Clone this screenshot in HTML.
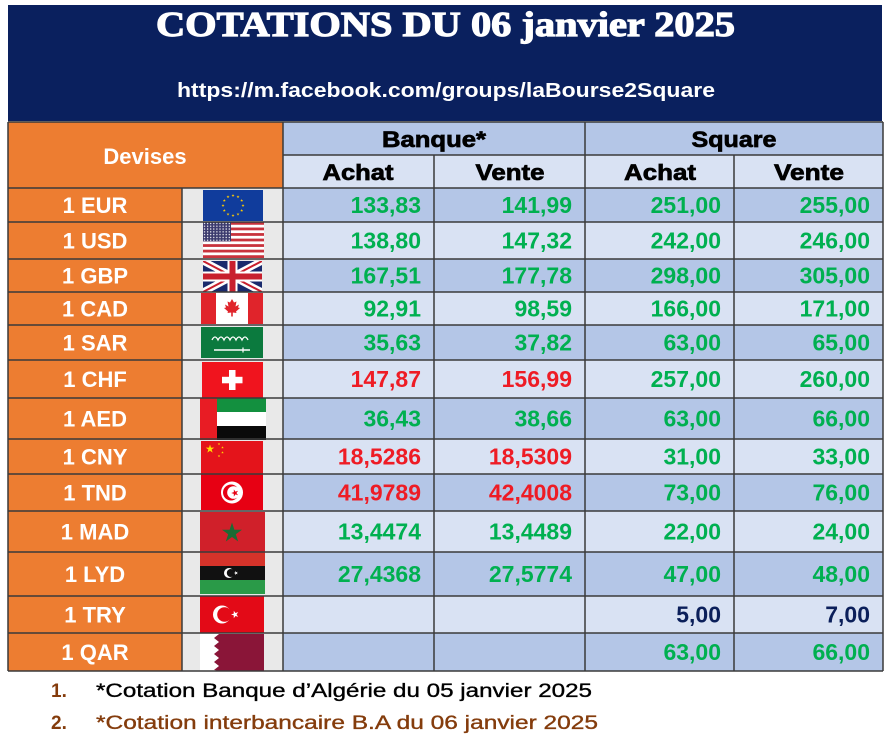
<!DOCTYPE html>
<html><head><meta charset="utf-8"><style>
html,body{margin:0;padding:0;background:#fff;}
body{width:886px;height:750px;overflow:hidden;}
svg{display:block;}
.lbl{font-family:"Liberation Sans",sans-serif;font-weight:bold;font-size:22px;fill:#fff;text-anchor:middle;}
.num{font-family:"Liberation Sans",sans-serif;font-weight:bold;font-size:23px;text-anchor:end;}
.g{fill:#00b050;}.r{fill:#ee1c25;}.n{fill:#0b1f5a;}
.hd{font-family:"Liberation Sans",sans-serif;font-weight:bold;font-size:22px;fill:#000;stroke:#000;stroke-width:0.7;text-anchor:middle;}
.ft{font-family:"Liberation Sans",sans-serif;font-size:19px;}
</style></head><body>
<svg width="886" height="750" viewBox="0 0 886 750" xmlns="http://www.w3.org/2000/svg">
<defs>
<polygon id="st" points="0,-1 0.2245,-0.309 0.951,-0.309 0.363,0.118 0.588,0.809 0,0.382 -0.588,0.809 -0.363,0.118 -0.951,-0.309 -0.2245,-0.309"/>
<clipPath id="ukc"><rect x="203" y="261" width="59" height="31"/></clipPath>
<pattern id="usd" x="203" y="222" width="3.1" height="2.8" patternUnits="userSpaceOnUse"><rect width="3.1" height="2.8" fill="#3c3b6e"/><circle cx="1.5" cy="1.4" r="0.7" fill="#fff"/></pattern>
</defs>

<!-- header -->
<rect x="8" y="5" width="874" height="116" fill="#0a205e"/>
<text x="156" y="36" textLength="579" lengthAdjust="spacingAndGlyphs" font-family="Liberation Serif, serif" font-weight="bold" font-size="35" fill="#fff" stroke="#fff" stroke-width="1.2">COTATIONS DU 06 janvier 2025</text>
<text x="177" y="97" textLength="538" lengthAdjust="spacingAndGlyphs" font-family="Liberation Sans, sans-serif" font-weight="bold" font-size="20" fill="#fff">https://m.facebook.com/groups/laBourse2Square</text>
<rect x="8" y="121" width="875" height="1" fill="#c8c8c8"/>

<!-- table header -->
<rect x="8" y="122" width="275" height="66" fill="#ed7d31"/>
<rect x="283" y="122" width="600" height="33" fill="#b4c6e7"/>
<rect x="283" y="155" width="600" height="33" fill="#d9e2f3"/>
<text x="145" y="164" class="lbl" font-size="22">Devises</text>
<text x="434" y="147" class="hd" textLength="104" lengthAdjust="spacingAndGlyphs">Banque*</text>
<text x="734" y="147" class="hd" textLength="85" lengthAdjust="spacingAndGlyphs">Square</text>
<text x="358" y="180" class="hd" textLength="71" lengthAdjust="spacingAndGlyphs">Achat</text>
<text x="510" y="180" class="hd" textLength="69" lengthAdjust="spacingAndGlyphs">Vente</text>
<text x="660" y="180" class="hd" textLength="72" lengthAdjust="spacingAndGlyphs">Achat</text>
<text x="809" y="180" class="hd" textLength="70" lengthAdjust="spacingAndGlyphs">Vente</text>

<!-- row backgrounds -->
<g>
<rect x="8" y="188" width="174" height="483" fill="#ed7d31"/>
<rect x="182" y="188" width="101" height="483" fill="#e9e9e9"/>
<rect x="283" y="188" width="600" height="34" fill="#b4c6e7"/>
<rect x="283" y="222" width="600" height="37" fill="#d9e2f3"/>
<rect x="283" y="259" width="600" height="33" fill="#b4c6e7"/>
<rect x="283" y="292" width="600" height="33" fill="#d9e2f3"/>
<rect x="283" y="325" width="600" height="35" fill="#b4c6e7"/>
<rect x="283" y="360" width="600" height="38" fill="#d9e2f3"/>
<rect x="283" y="398" width="600" height="41" fill="#b4c6e7"/>
<rect x="283" y="439" width="600" height="35" fill="#d9e2f3"/>
<rect x="283" y="474" width="600" height="37" fill="#b4c6e7"/>
<rect x="283" y="511" width="600" height="41" fill="#d9e2f3"/>
<rect x="283" y="552" width="600" height="44" fill="#b4c6e7"/>
<rect x="283" y="596" width="600" height="37" fill="#d9e2f3"/>
<rect x="283" y="633" width="600" height="38" fill="#b4c6e7"/>
</g>

<!-- flags -->
<!-- EU -->
<rect x="203" y="190" width="60" height="31" fill="#103c9c"/>
<g fill="#ffcc00">
<use href="#st" transform="translate(233,195.5) scale(1.6)"/>
<use href="#st" transform="translate(238,196.8) scale(1.6)"/>
<use href="#st" transform="translate(241.7,200.5) scale(1.6)"/>
<use href="#st" transform="translate(243,205.5) scale(1.6)"/>
<use href="#st" transform="translate(241.7,210.5) scale(1.6)"/>
<use href="#st" transform="translate(238,214.2) scale(1.6)"/>
<use href="#st" transform="translate(233,215.5) scale(1.6)"/>
<use href="#st" transform="translate(228,214.2) scale(1.6)"/>
<use href="#st" transform="translate(224.3,210.5) scale(1.6)"/>
<use href="#st" transform="translate(223,205.5) scale(1.6)"/>
<use href="#st" transform="translate(224.3,200.5) scale(1.6)"/>
<use href="#st" transform="translate(228,196.8) scale(1.6)"/>
</g>
<!-- USA -->
<rect x="203" y="222" width="61" height="36" fill="#fff"/>
<g fill="#c8323c">
<rect x="203" y="222" width="61" height="2.77"/>
<rect x="203" y="227.54" width="61" height="2.77"/>
<rect x="203" y="233.08" width="61" height="2.77"/>
<rect x="203" y="238.62" width="61" height="2.77"/>
<rect x="203" y="244.15" width="61" height="2.77"/>
<rect x="203" y="249.69" width="61" height="2.77"/>
<rect x="203" y="255.23" width="61" height="2.77"/>
</g>
<rect x="203" y="222" width="28" height="19.4" fill="url(#usd)"/>
<!-- UK -->
<g clip-path="url(#ukc)">
<rect x="203" y="261" width="59" height="31" fill="#1a2a6c"/>
<line x1="203" y1="261" x2="262" y2="292" stroke="#fff" stroke-width="7"/>
<line x1="203" y1="292" x2="262" y2="261" stroke="#fff" stroke-width="7"/>
<line x1="203" y1="261" x2="262" y2="292" stroke="#c8202e" stroke-width="2"/>
<line x1="203" y1="292" x2="262" y2="261" stroke="#c8202e" stroke-width="2"/>
<rect x="203" y="271.5" width="59" height="10" fill="#fff"/>
<rect x="227.5" y="261" width="10" height="31" fill="#fff"/>
<rect x="203" y="273.5" width="59" height="6" fill="#c8202e"/>
<rect x="229.5" y="261" width="6" height="31" fill="#c8202e"/>
</g>
<!-- Canada -->
<rect x="201" y="293" width="62" height="31" fill="#fff"/>
<rect x="201" y="293" width="15" height="31" fill="#e0242b"/>
<rect x="248" y="293" width="15" height="31" fill="#e0242b"/>
<polygon transform="translate(232,308)" fill="#e0242b" points="0,-9 2,-5.5 4.5,-6.5 3.5,-1.5 7,-3.5 6,-0.5 8,0 4,3.5 4.5,5 0.8,4.5 0.8,8.5 -0.8,8.5 -0.8,4.5 -4.5,5 -4,3.5 -8,0 -6,-0.5 -7,-3.5 -3.5,-1.5 -4.5,-6.5 -2,-5.5"/>
<!-- Saudi -->
<rect x="201" y="327" width="62" height="31" fill="#0b7a3e"/>
<path d="M212,340 q3,-6 6,0 q3,-6 6,0 q3,-6 6,0 q3,-6 6,0 q3,-6 6,0 q3,-6 6,0" fill="none" stroke="#fff" stroke-width="1.3"/>
<line x1="214" y1="350" x2="250" y2="350" stroke="#fff" stroke-width="1.5"/>
<line x1="243" y1="347.5" x2="243" y2="352.5" stroke="#fff" stroke-width="1.2"/>
<!-- Swiss -->
<rect x="202" y="362" width="61" height="36" fill="#f0141e"/>
<rect x="229" y="370" width="6.5" height="20" fill="#fff"/>
<rect x="222" y="376.8" width="20.5" height="6.5" fill="#fff"/>
<!-- UAE -->
<rect x="200" y="398" width="17" height="42" fill="#e81c24"/>
<rect x="217" y="398" width="49" height="14" fill="#13903f"/>
<rect x="217" y="412" width="49" height="14" fill="#fff"/>
<rect x="217" y="426" width="49" height="14" fill="#0a0a0a"/>
<!-- China -->
<rect x="201" y="441" width="62" height="33" fill="#e4141b"/>
<g fill="#ffde00">
<use href="#st" transform="translate(210,449) scale(4.5)"/>
<use href="#st" transform="translate(219,444) scale(1.4)"/>
<use href="#st" transform="translate(222.5,447.5) scale(1.4)"/>
<use href="#st" transform="translate(222.5,452.5) scale(1.4)"/>
<use href="#st" transform="translate(219,456) scale(1.4)"/>
</g>
<!-- Tunisia -->
<rect x="201" y="474" width="62" height="36" fill="#e70013"/>
<circle cx="232" cy="492.5" r="11" fill="#fff"/>
<circle cx="231" cy="492.5" r="8" fill="#e70013"/>
<circle cx="233.5" cy="492.5" r="6.3" fill="#fff"/>
<use href="#st" fill="#e70013" transform="translate(235,493) rotate(-90) scale(3.8)"/>
<!-- Morocco -->
<rect x="200" y="512" width="65" height="40" fill="#d0202a"/>
<use href="#st" fill="#1b6b34" transform="translate(232,533) scale(10.5)"/>
<!-- Libya -->
<rect x="200" y="552" width="65" height="14" fill="#d6332a"/>
<rect x="200" y="566" width="65" height="14" fill="#111"/>
<rect x="200" y="580" width="65" height="14" fill="#2a9a48"/>
<circle cx="229" cy="573" r="5" fill="#fff"/>
<circle cx="230.8" cy="573" r="4" fill="#111"/>
<use href="#st" fill="#fff" transform="translate(236,573) rotate(-90) scale(2.2)"/>
<!-- Turkey -->
<rect x="200" y="596" width="64" height="37" fill="#e30a17"/>
<circle cx="222" cy="614.5" r="9" fill="#fff"/>
<circle cx="224.5" cy="614.5" r="7.3" fill="#e30a17"/>
<use href="#st" fill="#fff" transform="translate(235,614.5) rotate(-90) scale(4)"/>
<!-- Qatar -->
<rect x="200" y="634" width="64" height="37" fill="#fff"/>
<polygon fill="#8a1538" points="264,634 219,634 214,638 219,642 214,646 219,650 214,654 219,658 214,662 219,666 214,670 219,671 264,671"/>

<!-- grid lines -->
<g stroke="#3a3a3a" stroke-width="1.5">
<line x1="8" y1="122" x2="883" y2="122"/>
<line x1="283" y1="155" x2="883" y2="155"/>
<line x1="8" y1="188" x2="883" y2="188"/>
<line x1="8" y1="222" x2="883" y2="222"/>
<line x1="8" y1="259" x2="883" y2="259"/>
<line x1="8" y1="292" x2="883" y2="292"/>
<line x1="8" y1="325" x2="883" y2="325"/>
<line x1="8" y1="360" x2="883" y2="360"/>
<line x1="8" y1="398" x2="883" y2="398"/>
<line x1="8" y1="439" x2="883" y2="439"/>
<line x1="8" y1="474" x2="883" y2="474"/>
<line x1="8" y1="511" x2="883" y2="511"/>
<line x1="8" y1="552" x2="883" y2="552"/>
<line x1="8" y1="596" x2="883" y2="596"/>
<line x1="8" y1="633" x2="883" y2="633"/>
<line x1="8" y1="671" x2="883" y2="671"/>
<line x1="8" y1="122" x2="8" y2="671"/>
<line x1="182" y1="188" x2="182" y2="671"/>
<line x1="283" y1="122" x2="283" y2="671"/>
<line x1="434" y1="155" x2="434" y2="671"/>
<line x1="585" y1="122" x2="585" y2="671"/>
<line x1="734" y1="155" x2="734" y2="671"/>
<line x1="883" y1="122" x2="883" y2="671"/>
</g>

<!-- labels -->
<text class="lbl" x="95" y="213">1 EUR</text>
<text class="lbl" x="95" y="248.5">1 USD</text>
<text class="lbl" x="95" y="283.5">1 GBP</text>
<text class="lbl" x="95" y="316.5">1 CAD</text>
<text class="lbl" x="95" y="350.5">1 SAR</text>
<text class="lbl" x="95" y="387">1 CHF</text>
<text class="lbl" x="95" y="426.5">1 AED</text>
<text class="lbl" x="95" y="464.5">1 CNY</text>
<text class="lbl" x="95" y="500.5">1 TND</text>
<text class="lbl" x="95" y="539.5">1 MAD</text>
<text class="lbl" x="95" y="582">1 LYD</text>
<text class="lbl" x="95" y="622.5">1 TRY</text>
<text class="lbl" x="95" y="660">1 QAR</text>

<!-- numbers -->
<g class="num">
<text class="num g" x="421" y="213">133,83</text><text class="num g" x="572" y="213">141,99</text><text class="num g" x="721" y="213">251,00</text><text class="num g" x="870" y="213">255,00</text>
<text class="num g" x="421" y="248.5">138,80</text><text class="num g" x="572" y="248.5">147,32</text><text class="num g" x="721" y="248.5">242,00</text><text class="num g" x="870" y="248.5">246,00</text>
<text class="num g" x="421" y="283.5">167,51</text><text class="num g" x="572" y="283.5">177,78</text><text class="num g" x="721" y="283.5">298,00</text><text class="num g" x="870" y="283.5">305,00</text>
<text class="num g" x="421" y="316.5">92,91</text><text class="num g" x="572" y="316.5">98,59</text><text class="num g" x="721" y="316.5">166,00</text><text class="num g" x="870" y="316.5">171,00</text>
<text class="num g" x="421" y="350.5">35,63</text><text class="num g" x="572" y="350.5">37,82</text><text class="num g" x="721" y="350.5">63,00</text><text class="num g" x="870" y="350.5">65,00</text>
<text class="num r" x="421" y="387">147,87</text><text class="num r" x="572" y="387">156,99</text><text class="num g" x="721" y="387">257,00</text><text class="num g" x="870" y="387">260,00</text>
<text class="num g" x="421" y="426.5">36,43</text><text class="num g" x="572" y="426.5">38,66</text><text class="num g" x="721" y="426.5">63,00</text><text class="num g" x="870" y="426.5">66,00</text>
<text class="num r" x="421" y="464.5">18,5286</text><text class="num r" x="572" y="464.5">18,5309</text><text class="num g" x="721" y="464.5">31,00</text><text class="num g" x="870" y="464.5">33,00</text>
<text class="num r" x="421" y="500.5">41,9789</text><text class="num r" x="572" y="500.5">42,4008</text><text class="num g" x="721" y="500.5">73,00</text><text class="num g" x="870" y="500.5">76,00</text>
<text class="num g" x="421" y="539.5">13,4474</text><text class="num g" x="572" y="539.5">13,4489</text><text class="num g" x="721" y="539.5">22,00</text><text class="num g" x="870" y="539.5">24,00</text>
<text class="num g" x="421" y="582">27,4368</text><text class="num g" x="572" y="582">27,5774</text><text class="num g" x="721" y="582">47,00</text><text class="num g" x="870" y="582">48,00</text>
<text class="num n" x="721" y="622.5">5,00</text><text class="num n" x="870" y="622.5">7,00</text>
<text class="num g" x="721" y="660">63,00</text><text class="num g" x="870" y="660">66,00</text>
</g>

<!-- footer -->
<text class="ft" x="51" y="697" fill="#843c0c" font-weight="bold">1.</text>
<text class="ft" x="96" y="697" fill="#000" stroke="#000" stroke-width="0.35" textLength="496" lengthAdjust="spacingAndGlyphs">*Cotation Banque d’Algérie du 05 janvier 2025</text>
<text class="ft" x="51" y="729" fill="#843c0c" font-weight="bold">2.</text>
<text class="ft" x="96" y="729" fill="#843c0c" stroke="#843c0c" stroke-width="0.35" textLength="502" lengthAdjust="spacingAndGlyphs">*Cotation interbancaire B.A du 06 janvier 2025</text>
</svg>
</body></html>
